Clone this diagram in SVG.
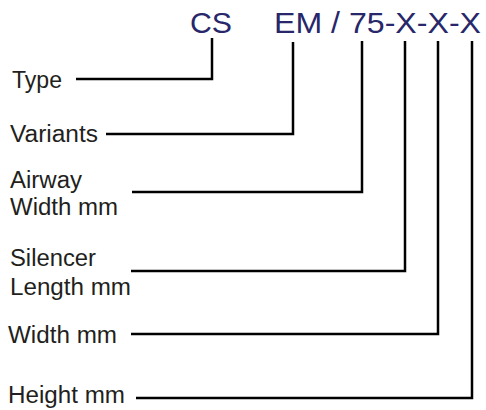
<svg xmlns="http://www.w3.org/2000/svg" width="486" height="410" viewBox="0 0 486 410">
<style>
.code{font-family:"Liberation Sans",Arial,sans-serif;font-size:30px;fill:#27276a}
.lbl{font-family:"Liberation Sans",Arial,sans-serif;font-size:23px;fill:#231f20}
.ln{fill:none;stroke:#000;stroke-width:2.5}
</style>
<rect width="486" height="410" fill="#fff"/>
<g id="code">
<text class="code" x="190" y="33" textLength="42" lengthAdjust="spacingAndGlyphs">CS</text>
<text class="code" x="274" y="33" textLength="207" lengthAdjust="spacingAndGlyphs">EM / 75-X-X-X</text>
</g>
<g id="type"><text class="lbl" x="12" y="88" textLength="50" lengthAdjust="spacingAndGlyphs">Type</text></g>
<g id="variants"><text class="lbl" x="10" y="142" textLength="88" lengthAdjust="spacingAndGlyphs">Variants</text></g>
<g id="airway"><text class="lbl" x="10" y="188" textLength="72" lengthAdjust="spacingAndGlyphs">Airway</text><text class="lbl" x="10" y="215" textLength="108" lengthAdjust="spacingAndGlyphs">Width mm</text></g>
<g id="silencer"><text class="lbl" x="10" y="266" textLength="86" lengthAdjust="spacingAndGlyphs">Silencer</text><text class="lbl" x="10" y="295" textLength="121" lengthAdjust="spacingAndGlyphs">Length mm</text></g>
<g id="width"><text class="lbl" x="8" y="343" textLength="109" lengthAdjust="spacingAndGlyphs">Width mm</text></g>
<g id="height"><text class="lbl" x="8" y="403" textLength="117" lengthAdjust="spacingAndGlyphs">Height mm</text></g>
<g id="connectors">
<polyline class="ln" points="76,79 212,79 212,38"/>
<polyline class="ln" points="106,134 293,134 293,42"/>
<polyline class="ln" points="132,192 362,192 362,41"/>
<polyline class="ln" points="131,271 405,271 405,41"/>
<polyline class="ln" points="131,334 438,334 438,41"/>
<polyline class="ln" points="136,398 472,398 472,41"/>
</g>
</svg>
